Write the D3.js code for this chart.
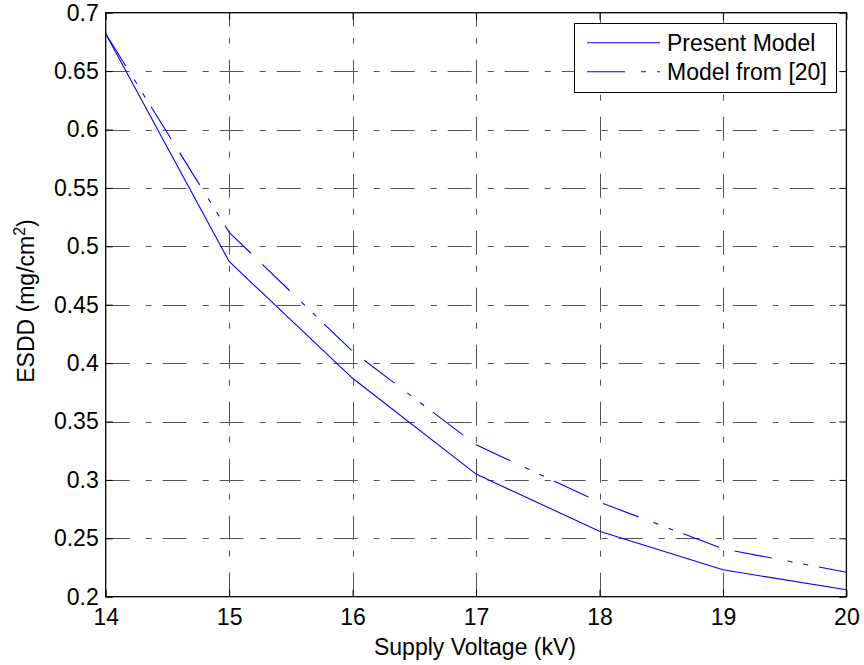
<!DOCTYPE html>
<html>
<head>
<meta charset="utf-8">
<script src="https://cdn.jsdelivr.net/npm/d3@7"></script>
<style>
  html, body { margin: 0; padding: 0; background: #fff; }
  svg { display: block; font-family: Arial, "Liberation Sans", Helvetica, sans-serif; }
</style>
</head>
<body>
<svg id="chart" width="864" height="665"></svg>
<script>
// Supply voltage (kV) and ESDD (mg/cm^2) for the two models
const voltages = [14, 15, 16, 17, 18, 19, 20];
const presentModel = [0.682, 0.487, 0.387, 0.305, 0.256, 0.223, 0.206];
const model20 = [0.682, 0.512, 0.410, 0.330, 0.281, 0.241, 0.221];
const xTicks = [14, 15, 16, 17, 18, 19, 20];
const yTicks = [0.2, 0.25, 0.3, 0.35, 0.4, 0.45, 0.5, 0.55, 0.6, 0.65, 0.7];
const seriesNames = ["Present Model", "Model from [20]"];

const W = 864, H = 665;
const margin = { left: 105.7, right: 17.6, top: 12.7, bottom: 68.3 };
const x0 = margin.left, x1 = W - margin.right;
const y0 = H - margin.bottom, y1 = margin.top;

const svg = d3.select("#chart");
const x = d3.scaleLinear().domain([14, 20]).range([x0, x1]);
const y = d3.scaleLinear().domain([0.2, 0.7]).range([y0, y1]);

const gridDash = "24,16,6,11";
const fontSize = 23;

// grid: horizontal lines run left to right, vertical lines bottom to top
const grid = svg.append("g").attr("stroke", "#555").attr("stroke-width", 1)
  .attr("stroke-dasharray", gridDash).attr("fill", "none");
yTicks.slice(1, -1).forEach(v => {
  const yy = Math.round(y(v)) + 0.5;
  grid.append("line").attr("x1", x0).attr("x2", x1).attr("y1", yy).attr("y2", yy);
});
xTicks.slice(1, -1).forEach(v => {
  const xx = Math.round(x(v)) + 0.5;
  grid.append("line").attr("x1", xx).attr("x2", xx).attr("y1", y0).attr("y2", y1);
});

// axes with inward ticks on all four sides
const tickLen = 7;
const axisBottom = d3.axisBottom(x).tickValues(xTicks).tickSizeInner(-tickLen).tickSizeOuter(0).tickPadding(12).tickFormat(d3.format("d"));
const axisTop = d3.axisTop(x).tickValues(xTicks).tickSizeInner(-tickLen).tickSizeOuter(0).tickFormat("");
const axisLeft = d3.axisLeft(y).tickValues(yTicks).tickSizeInner(-tickLen).tickSizeOuter(0).tickPadding(7).tickFormat(d3.format("~g"));
const axisRight = d3.axisRight(y).tickValues(yTicks).tickSizeInner(-tickLen).tickSizeOuter(0).tickFormat("");

function styleAxis(g) {
  g.select(".domain").remove();
  g.selectAll(".tick line").attr("stroke", "#000").attr("stroke-width", 1);
  g.selectAll(".tick text").attr("fill", "#000").style("font-size", fontSize + "px")
    .style("font-family", "Arial, 'Liberation Sans', sans-serif");
}
svg.append("g").attr("transform", `translate(0,${y0})`).call(axisBottom).call(styleAxis);
svg.append("g").attr("transform", `translate(0,${y1})`).call(axisTop).call(styleAxis);
svg.append("g").attr("transform", `translate(${x0},0)`).call(axisLeft).call(styleAxis);
svg.append("g").attr("transform", `translate(${x1},0)`).call(axisRight).call(styleAxis);

// data lines
const line = d3.line().x((d, i) => x(voltages[i])).y(d => y(d));
const dashDot = "38,16,5,11,5,11,38,16";
svg.append("path").datum(model20).attr("d", line).attr("fill", "none")
  .attr("stroke", "#0000ff").attr("stroke-width", 1.1).attr("stroke-dasharray", dashDot);
svg.append("path").datum(presentModel).attr("d", line).attr("fill", "none")
  .attr("stroke", "#0000ff").attr("stroke-width", 1.1);

// axes box
svg.append("rect").attr("x", x0).attr("y", y1).attr("width", x1 - x0).attr("height", y0 - y1)
  .attr("fill", "none").attr("stroke", "#000").attr("stroke-width", 1.3);

// axis labels
svg.append("text").attr("x", 475).attr("y", 655)
  .attr("text-anchor", "middle").style("font-size", fontSize + "px").text("Supply Voltage (kV)");
const yl = svg.append("text").attr("transform", `translate(34,301) rotate(-90)`)
  .attr("text-anchor", "middle").style("font-size", fontSize + "px");
yl.append("tspan").text("ESDD (mg/cm");
yl.append("tspan").attr("dy", -9).style("font-size", "16px").text("2");
yl.append("tspan").attr("dy", 9).text(")");

// legend
const lg = svg.append("g");
lg.append("rect").attr("x", 574.5).attr("y", 23.5).attr("width", 262).attr("height", 69)
  .attr("fill", "#fff").attr("stroke", "#000").attr("stroke-width", 1);
const rows = [{ name: seriesNames[0], dash: null, cy: 42.7 }, { name: seriesNames[1], dash: dashDot, cy: 71.7 }];
rows.forEach(r => {
  lg.append("line").attr("x1", 587).attr("x2", 660).attr("y1", r.cy).attr("y2", r.cy)
    .attr("stroke", "#0000ff").attr("stroke-width", 1.1).attr("stroke-dasharray", r.dash);
  lg.append("text").attr("x", 667).attr("y", r.cy).attr("dy", "0.35em")
    .style("font-size", fontSize + "px").text(r.name);
});
</script>
</body>
</html>
